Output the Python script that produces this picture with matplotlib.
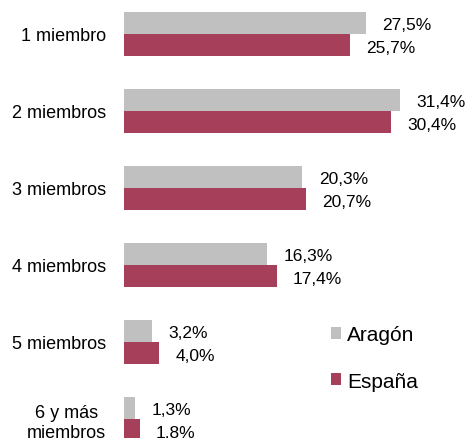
import matplotlib.pyplot as plt
import numpy as np

plt.rcParams['font.family'] = ['Liberation Sans', 'DejaVu Sans']

categorias = ['1 miembro', '2 miembros', '3 miembros', '4 miembros', '5 miembros', '6 y más\nmiembros']
aragon = [27.5, 31.4, 20.3, 16.3, 3.2, 1.3]
espana = [25.7, 30.4, 20.7, 17.4, 4.0, 1.8]

gris = '#C0C0C0'
rojo = '#A6405A'

fig = plt.figure(figsize=(4.71, 4.39), dpi=100)
ax = fig.add_axes([124 / 471, 0, 1 - 124 / 471, 1])

y = np.arange(len(categorias))
h = 22 / 77
b1 = ax.barh(y - h / 2, aragon, height=h, color=gris, label='Aragón')
b2 = ax.barh(y + h / 2, espana, height=h, color=rojo, label='España')

for yi, v in zip(y - h / 2, aragon):
    ax.annotate(('%.1f%%' % v).replace('.', ','), (v, yi), xytext=(12, -1),
                textcoords='offset points', va='center', ha='left', fontsize=12.5)
for yi, v in zip(y + h / 2, espana):
    ax.annotate(('%.1f%%' % v).replace('.', ','), (v, yi), xytext=(11.5, -1.5),
                textcoords='offset points', va='center', ha='left', fontsize=12.5)

ax.set_xlim(0, (471 - 124) / 8.79)
ax.set_ylim((439 - 35) / 77, -35 / 77)
ax.set_yticks(y)
ax.set_yticklabels(categorias, fontsize=13, multialignment='center')
ax.tick_params(axis='y', length=0, pad=13)
ax.set_xticks([])
for s in ax.spines.values():
    s.set_visible(False)

fig.legend(handles=[b1, b2], loc='center left', bbox_to_anchor=(331 / 471, 1 - 359 / 439),
           frameon=False, fontsize=15, handlelength=0.48, handleheight=0.48,
           handletextpad=0.3, labelspacing=1.3, borderpad=0, borderaxespad=0)

plt.savefig('out.png', dpi=100)
